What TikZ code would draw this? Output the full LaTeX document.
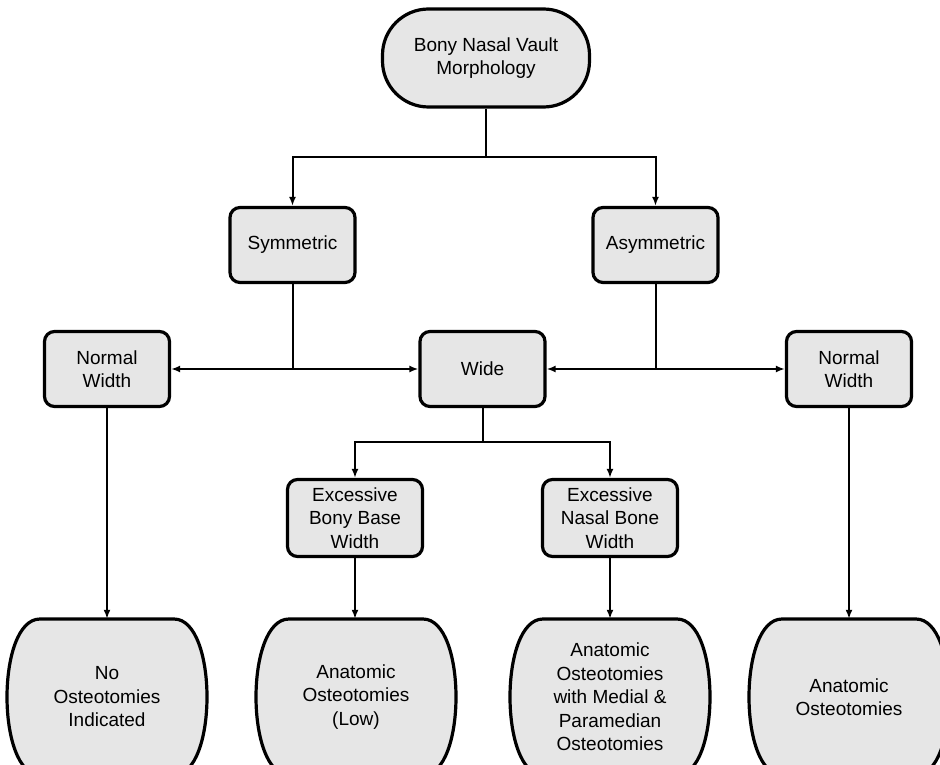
\documentclass[tikz,border=0pt]{standalone}
\usepackage{fontspec}
\setmainfont{Liberation Sans}
\usetikzlibrary{arrows.meta}
\definecolor{boxgray}{HTML}{E6E6E6}
\newcommand\diafont{\fontsize{19}{23.5}\selectfont}
\begin{document}
\begin{tikzpicture}[x=1pt,y=-1pt,
  boxbase/.style={draw=black, line width=3.2pt, fill=boxgray, align=center, font=\diafont, inner sep=0pt},
  sqbox/.style={boxbase, rounded corners=10pt, minimum width=125pt, minimum height=75pt},
  exbox/.style={boxbase, rounded corners=10pt, minimum width=135pt, minimum height=77pt},
  topbox/.style={boxbase, rounded corners=46pt, minimum width=207pt, minimum height=98pt},
  termtext/.style={align=center, font=\diafont, inner sep=0pt, minimum width=200pt, minimum height=156pt},
  termline/.style={draw=black, line width=3.2pt, fill=boxgray},
  conn/.style={line width=2pt},
  arr/.style={conn, -{Latex[length=9pt,width=7pt]}},
  arrboth/.style={conn, {Latex[length=9pt,width=7pt]}-{Latex[length=9pt,width=7pt]}}
]
\useasboundingbox (0,0) rectangle (940,765);
\begin{scope}
\clip (0,0) rectangle (940,765);
% terminal shapes
\foreach \cx in {107,356,610,849}{
  \draw[termline] (\cx-67,619) -- (\cx+67,619)
    .. controls (\cx+111,619) and (\cx+111,775) .. (\cx+67,775)
    -- (\cx-67,775)
    .. controls (\cx-111,775) and (\cx-111,619) .. (\cx-67,619) -- cycle;
}
\end{scope}

\node[topbox] (top) at (486,58) {Bony Nasal Vault\\Morphology};
\node[sqbox] (sym) at (292.5,245) {Symmetric};
\node[sqbox] (asym) at (655.5,245) {Asymmetric};
\node[sqbox] (nwl) at (107,369) {Normal\\Width};
\node[sqbox] (wide) at (482.5,369) {Wide};
\node[sqbox] (nwr) at (849,369) {Normal\\Width};
\node[exbox] (eb) at (355,518) {Excessive\\Bony Base\\Width};
\node[exbox] (en) at (610,518) {Excessive\\Nasal Bone\\Width};

\node[termtext] (b1) at (107,697) {No\\Osteotomies\\Indicated};
\node[termtext] (b2) at (356,697) {Anatomic\\Osteotomies\\(Low)};
\node[termtext] (b3) at (610,697) {Anatomic\\Osteotomies\\with Medial \&\\Paramedian\\Osteotomies};
\node[termtext] (b4) at (849,697) {Anatomic\\Osteotomies};

\coordinate (jtop) at (486,157);
\coordinate (jw) at (482.5,442);

\draw[conn] (top) -- (jtop);
\draw[arr] (jtop) -| (sym);
\draw[arr] (jtop) -| (asym);

\draw[conn] (sym) -- (sym |- nwl);
\draw[conn] (asym) -- (asym |- nwr);
\draw[arrboth] (nwl) -- (wide);
\draw[arrboth] (wide) -- (nwr);

\draw[conn] (wide) -- (jw);
\draw[arr] (jw) -| (eb);
\draw[arr] (jw) -| (en);

\draw[arr] (nwl) -- (b1);
\draw[arr] (eb) -- (b2.north -| eb);
\draw[arr] (en) -- (b3);
\draw[arr] (nwr) -- (b4);
\end{tikzpicture}
\end{document}
